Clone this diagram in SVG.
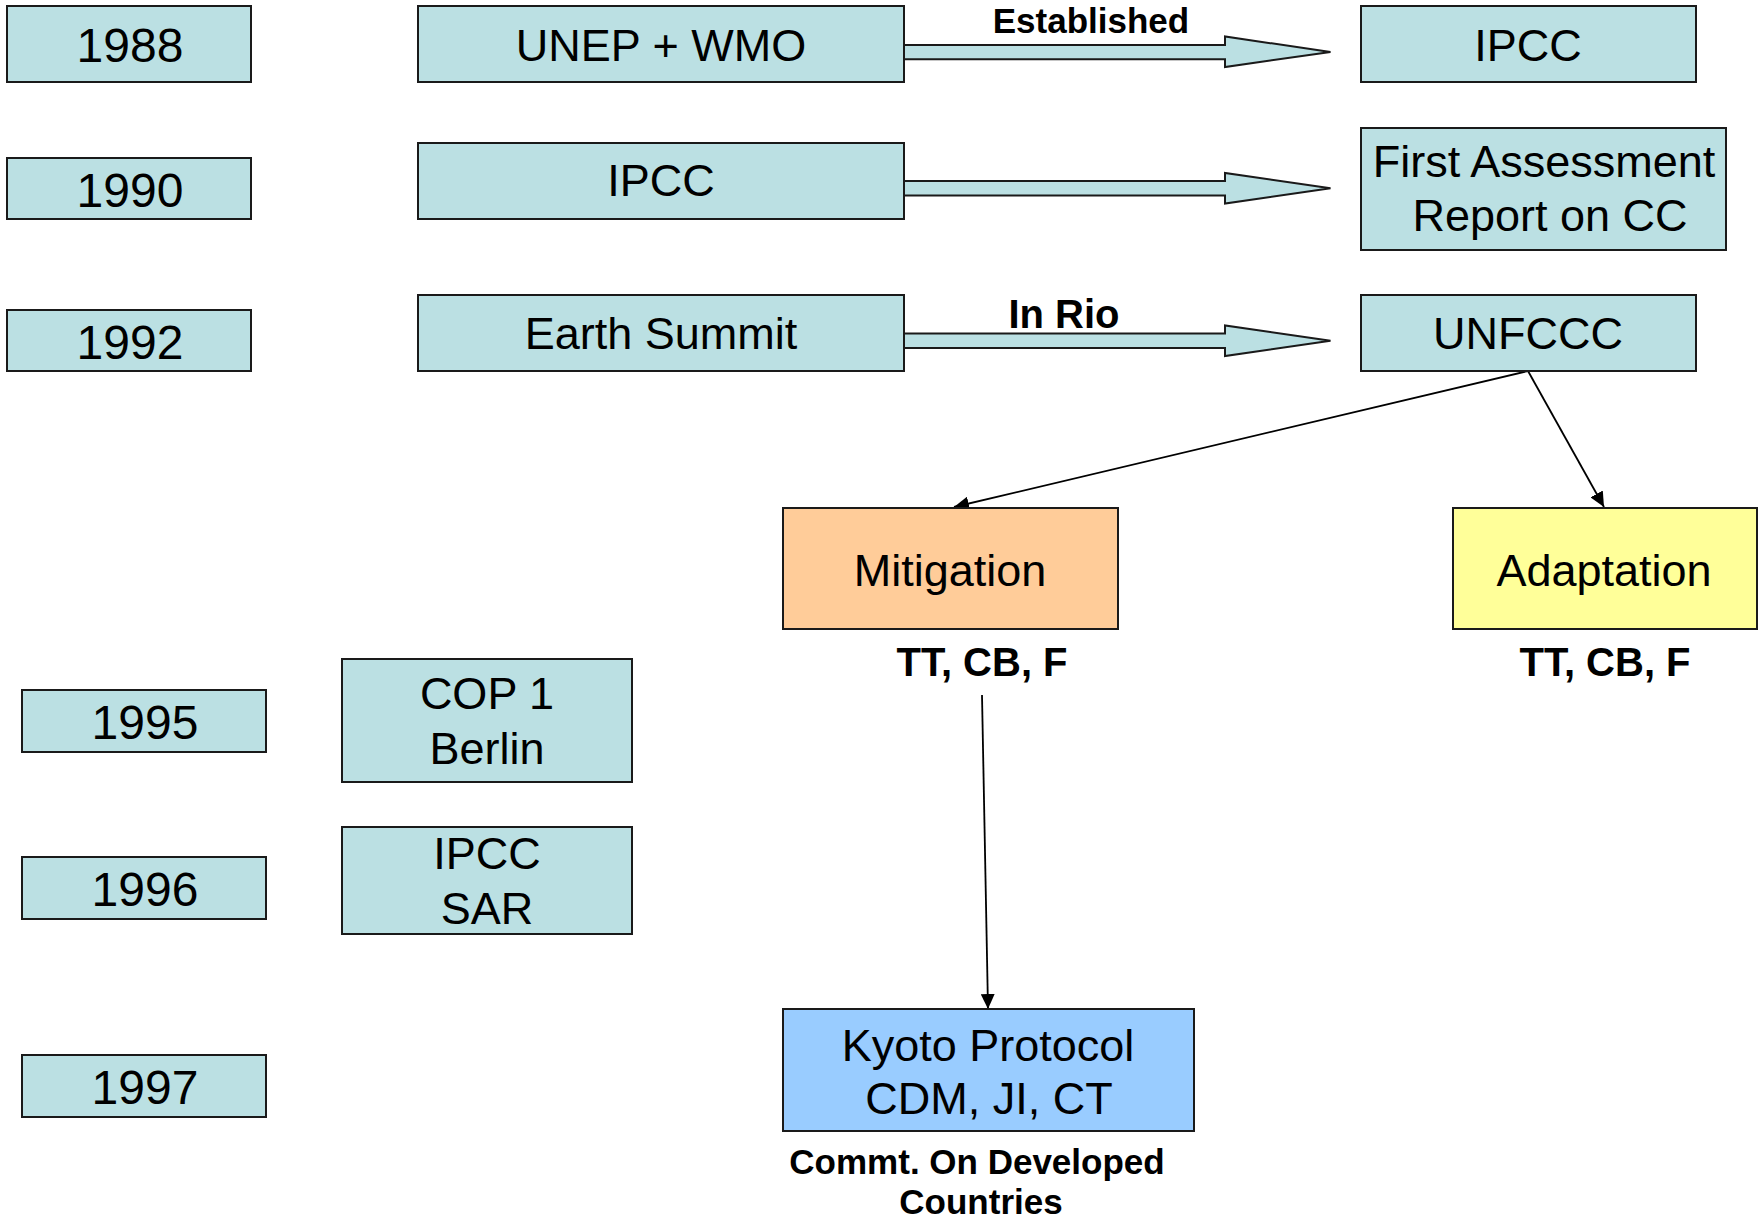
<svg xmlns="http://www.w3.org/2000/svg" width="1761" height="1228" viewBox="0 0 1761 1228">
<style>
.box{fill:#BBE0E3;stroke:#1a1a1a;stroke-width:2}
.blk{fill:#BBE0E3;stroke:#1a1a1a;stroke-width:2;stroke-linejoin:miter}
.t{font-family:"Liberation Sans",Arial,sans-serif;font-size:45px;fill:#000;text-anchor:middle}
.yr{font-size:48px}
.b{font-family:"Liberation Sans",Arial,sans-serif;font-weight:bold;fill:#000;text-anchor:middle}
.ln{fill:none;stroke:#000;stroke-width:1.8;marker-end:url(#ah)}
</style>
<defs>
<marker id="ah" markerUnits="userSpaceOnUse" markerWidth="16" markerHeight="14" refX="15" refY="7" orient="auto">
<path d="M0,0 L15,7 L0,14 z" fill="#000"/>
</marker>
</defs>
<rect width="1761" height="1228" fill="#fff"/>
<g id="connectors">
<polygon class="blk" points="900,45 1225,45 1225,36.5 1330.5,52 1225,67 1225,59.3 900,59.3"/>
<polygon class="blk" points="900,181 1225,181 1225,173 1330.5,188.3 1225,203.5 1225,195.5 900,195.5"/>
<polygon class="blk" points="900,333.5 1225,333.5 1225,325.5 1330.5,340.8 1225,356 1225,348 900,348"/>
<line class="ln" x1="1528" y1="371" x2="954" y2="507"/>
<line class="ln" x1="1528" y1="371" x2="1604" y2="507"/>
<line class="ln" x1="982" y1="695" x2="988" y2="1009"/>
<text class="b" x="1091" y="33" font-size="35">Established</text>
<text class="b" x="1064" y="328" font-size="40">In Rio</text>
</g>
<g id="y1988"><rect class="box" x="7" y="6" width="244" height="76"/><text class="t yr" x="130" y="62">1988</text></g>
<g id="y1990"><rect class="box" x="7" y="158" width="244" height="61"/><text class="t yr" x="130" y="207">1990</text></g>
<g id="y1992"><rect class="box" x="7" y="310" width="244" height="61"/><text class="t yr" x="130" y="359">1992</text></g>
<g id="y1995"><rect class="box" x="22" y="690" width="244" height="62"/><text class="t yr" x="145" y="739">1995</text></g>
<g id="y1996"><rect class="box" x="22" y="857" width="244" height="62"/><text class="t yr" x="145" y="906">1996</text></g>
<g id="y1997"><rect class="box" x="22" y="1055" width="244" height="62"/><text class="t yr" x="145" y="1104">1997</text></g>
<g id="unep"><rect class="box" x="418" y="6" width="486" height="76"/><text class="t" x="661" y="61">UNEP + WMO</text></g>
<g id="ipcc1990"><rect class="box" x="418" y="143" width="486" height="76"/><text class="t" x="661" y="196">IPCC</text></g>
<g id="earth"><rect class="box" x="418" y="295" width="486" height="76"/><text class="t" x="661" y="349">Earth Summit</text></g>
<g id="ipcc"><rect class="box" x="1361" y="6" width="335" height="76"/><text class="t" x="1528" y="61">IPCC</text></g>
<g id="far"><rect class="box" x="1361" y="128" width="365" height="122"/><text class="t" x="1544" y="177">First Assessment</text><text class="t" x="1550" y="231">Report on CC</text></g>
<g id="unfccc"><rect class="box" x="1361" y="295" width="335" height="76"/><text class="t" x="1528" y="349">UNFCCC</text></g>
<g id="mitigation"><rect x="783" y="508" width="335" height="121" fill="#FFCC99" stroke="#1a1a1a" stroke-width="2"/><text class="t" x="950" y="586">Mitigation</text><text class="b" x="982" y="676" font-size="40">TT, CB, F</text></g>
<g id="adaptation"><rect x="1453" y="508" width="304" height="121" fill="#FFFF99" stroke="#1a1a1a" stroke-width="2"/><text class="t" x="1604" y="586">Adaptation</text><text class="b" x="1605" y="676" font-size="40">TT, CB, F</text></g>
<g id="cop1"><rect class="box" x="342" y="659" width="290" height="123"/><text class="t" x="487" y="709">COP 1</text><text class="t" x="487" y="764">Berlin</text></g>
<g id="sar"><rect class="box" x="342" y="827" width="290" height="107"/><text class="t" x="487" y="869">IPCC</text><text class="t" x="487" y="924">SAR</text></g>
<g id="kyoto"><rect x="783" y="1009" width="411" height="122" fill="#99CCFF" stroke="#1a1a1a" stroke-width="2"/><text class="t" x="988" y="1061">Kyoto Protocol</text><text class="t" x="989" y="1114">CDM, JI, CT</text><text class="b" x="977" y="1174" font-size="35">Commt. On Developed</text><text class="b" x="981" y="1214" font-size="35">Countries</text></g>
</svg>
